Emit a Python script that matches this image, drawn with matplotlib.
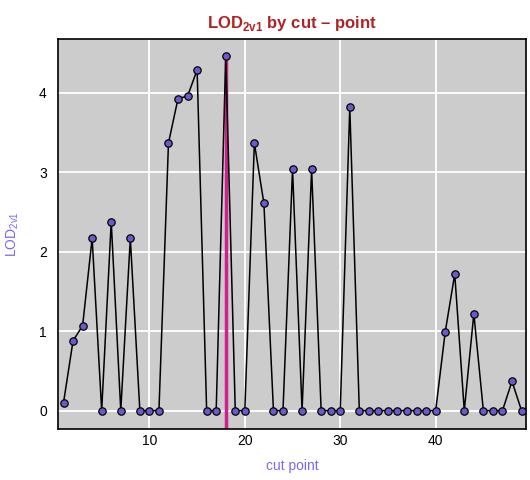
import matplotlib
matplotlib.use("Agg")
import matplotlib.pyplot as plt

plt.rcParams["font.family"] = ["Liberation Sans", "DejaVu Sans"]
plt.rcParams["mathtext.fontset"] = "custom"
plt.rcParams["mathtext.rm"] = "Liberation Sans"
plt.rcParams["mathtext.bf"] = "Liberation Sans:bold"

# LOD score per cut point
cut_points = list(range(1, 50))
lod = [
    0.10, 0.88, 1.07, 2.17, 0.0, 2.38, 0.0, 2.17, 0.0, 0.0,
    0.0, 3.37, 3.93, 3.96, 4.29, 0.0, 0.0, 4.46, 0.0, 0.0,
    3.37, 2.61, 0.0, 0.0, 3.04, 0.0, 3.04, 0.0, 0.0, 0.0,
    3.82, 0.0, 0.0, 0.0, 0.0, 0.0, 0.0, 0.0, 0.0, 0.0,
    0.99, 1.72, 0.0, 1.22, 0.0, 0.0, 0.0, 0.37, 0.0,
]
best_cut = 18
x_ticks = [10, 20, 30, 40]
y_ticks = [0, 1, 2, 3, 4]

fig = plt.figure(figsize=(5.3, 4.8), dpi=100)
ax = fig.add_axes([0.1094, 0.1069, 0.8831, 0.8119])
ax.set_facecolor("#cccccc")

ax.set_xlim(0.42, 49.47)
ax.set_ylim(-0.227, 4.68)
ax.set_xticks(x_ticks)
ax.set_yticks(y_ticks)
ax.grid(color="white", linewidth=1.3)
ax.set_axisbelow(True)
ax.tick_params(length=0, labelsize=10)
ax.tick_params(axis="x", pad=4)
ax.tick_params(axis="y", pad=8)
for s in ax.spines.values():
    s.set_linewidth(1.2)
    s.set_color("black")

best_val = lod[cut_points.index(best_cut)]
ax.vlines(best_cut, ax.get_ylim()[0], best_val, color="#d0208f", linewidth=2.5, zorder=2)
ax.plot(cut_points, lod, color="black", linewidth=1.1, marker="o", markersize=5.3,
        markerfacecolor="#6a5acd", markeredgecolor="black", markeredgewidth=0.9, zorder=3)

ax.set_title(r"LOD$_{\mathbf{2v1}}$ by cut – point", color="#b22222", fontsize=12,
             fontweight="bold", pad=8)
ax.set_xlabel("cut point", color="#7b68ee", fontsize=10, labelpad=8)
ax.set_ylabel(r"LOD$_{\mathrm{2v1}}$", color="#7b68ee", fontsize=10)
ax.yaxis.set_label_coords(-0.078, 0.5)

fig.savefig("out.png", dpi=100)
